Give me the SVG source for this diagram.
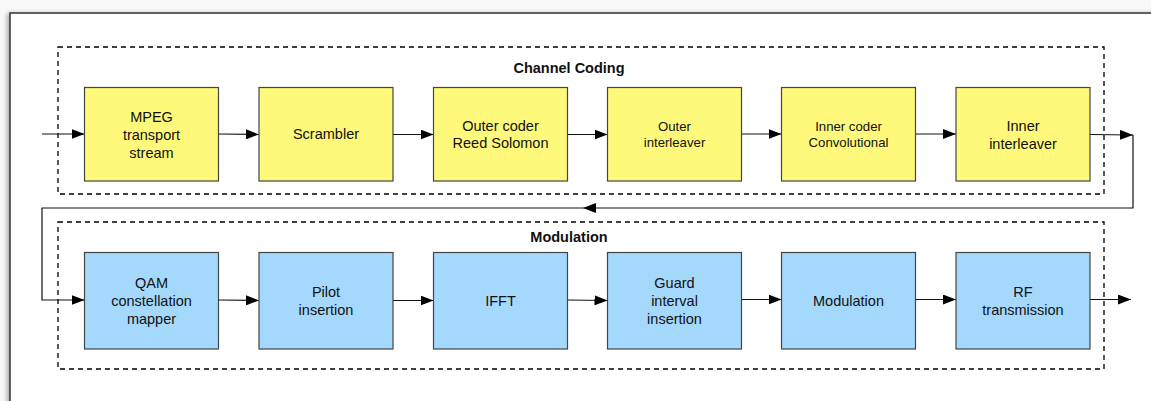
<svg xmlns="http://www.w3.org/2000/svg" width="1151" height="401" viewBox="0 0 1151 401">
  <defs>
    <marker id="arrow" viewBox="0 0 13 10" refX="13" refY="5" markerWidth="13" markerHeight="10" markerUnits="userSpaceOnUse" orient="auto">
      <path d="M0,0 L13,5 L0,10 Z" fill="#000"/>
    </marker>
    <filter id="shadow" x="-5%" y="-5%" width="110%" height="110%">
      <feGaussianBlur in="SourceAlpha" stdDeviation="2.5"/>
      <feOffset dx="-2" dy="1" result="b"/>
      <feComponentTransfer><feFuncA type="linear" slope="0.35"/></feComponentTransfer>
      <feMerge><feMergeNode/><feMergeNode in="SourceGraphic"/></feMerge>
    </filter>
  </defs>
  <style>
    .frame { fill: #fff; stroke: #333; stroke-width: 1.5; }
    .group { fill: none; stroke: #000; stroke-width: 1.3; stroke-dasharray: 5 4; }
    .coding { fill: #fef97a; stroke: #444; stroke-width: 1.2; }
    .mod { fill: #a5d8fd; stroke: #444; stroke-width: 1.2; }
    .title { font-family: "Liberation Sans", Arial, sans-serif; font-size: 14.5px; font-weight: bold; fill: #111; text-anchor: middle; }
    .lbl { font-family: "Liberation Sans", Arial, sans-serif; font-size: 14.5px; fill: #111; text-anchor: middle; }
    .sm { font-size: 13.2px; }
    .edge { fill: none; stroke: #111; stroke-width: 1.2; }
  </style>

  <rect width="1151" height="401" fill="#f9f9f9"/>
  <rect class="frame" x="10" y="13" width="1170" height="410" filter="url(#shadow)"/>

  <!-- group outlines -->
  <g id="channel-coding">
    <rect class="group" x="58" y="47" width="1046" height="147"/>
    <text class="title" x="569" y="73">Channel Coding</text>
  </g>
  <g id="modulation-group">
    <rect class="group" x="58" y="222" width="1046" height="147"/>
    <text class="title" x="569" y="242">Modulation</text>
  </g>

  <!-- connectors -->
  <g id="connectors">
    <line class="edge" x1="42" y1="134" x2="84.5" y2="134" marker-end="url(#arrow)"/>
    <line class="edge" x1="218.5" y1="134" x2="259" y2="134.5" marker-end="url(#arrow)"/>
    <line class="edge" x1="393" y1="134.5" x2="433.5" y2="134.5" marker-end="url(#arrow)"/>
    <line class="edge" x1="567.5" y1="134.5" x2="607.5" y2="134.5" marker-end="url(#arrow)"/>
    <line class="edge" x1="741.5" y1="134" x2="781.5" y2="134" marker-end="url(#arrow)"/>
    <line class="edge" x1="915.5" y1="134" x2="956" y2="134" marker-end="url(#arrow)"/>
    <line class="edge" x1="1090" y1="134.5" x2="1133" y2="135" marker-end="url(#arrow)"/>
    <path class="edge" d="M1133,135 L1133,208 L583,208" marker-end="url(#arrow)"/>
    <path class="edge" d="M583,208 L42,208 L42,300 L84.5,300" marker-end="url(#arrow)"/>
    <line class="edge" x1="218.5" y1="300" x2="259" y2="300.5" marker-end="url(#arrow)"/>
    <line class="edge" x1="393" y1="300.5" x2="433.5" y2="300.5" marker-end="url(#arrow)"/>
    <line class="edge" x1="567.5" y1="300" x2="607.5" y2="300.5" marker-end="url(#arrow)"/>
    <line class="edge" x1="741.5" y1="299.5" x2="781.5" y2="299.5" marker-end="url(#arrow)"/>
    <line class="edge" x1="915.5" y1="299.5" x2="956" y2="299.5" marker-end="url(#arrow)"/>
    <line class="edge" x1="1090" y1="299.5" x2="1131" y2="299.5" marker-end="url(#arrow)"/>
  </g>

  <!-- channel coding blocks -->
  <g id="mpeg">
    <rect class="coding" x="84.5" y="87.5" width="134" height="93.5"/>
    <text class="lbl" x="151.5" y="122">MPEG</text>
    <text class="lbl" x="151.5" y="140">transport</text>
    <text class="lbl" x="151.5" y="158">stream</text>
  </g>
  <g id="scrambler">
    <rect class="coding" x="259" y="87.5" width="134" height="93.5"/>
    <text class="lbl" x="326" y="139">Scrambler</text>
  </g>
  <g id="outer-coder">
    <rect class="coding" x="433.5" y="87.5" width="134" height="93.5"/>
    <text class="lbl" x="500.5" y="131">Outer coder</text>
    <text class="lbl" x="500.5" y="148">Reed Solomon</text>
  </g>
  <g id="outer-interleaver">
    <rect class="coding" x="607.5" y="87.5" width="134" height="93.5"/>
    <text class="lbl sm" x="674.5" y="131">Outer</text>
    <text class="lbl sm" x="674.5" y="147">interleaver</text>
  </g>
  <g id="inner-coder">
    <rect class="coding" x="781.5" y="87.5" width="134" height="93.5"/>
    <text class="lbl sm" x="848.5" y="131">Inner coder</text>
    <text class="lbl sm" x="848.5" y="147">Convolutional</text>
  </g>
  <g id="inner-interleaver">
    <rect class="coding" x="956" y="87.5" width="134" height="93.5"/>
    <text class="lbl" x="1023" y="131">Inner</text>
    <text class="lbl" x="1023" y="149">interleaver</text>
  </g>

  <!-- modulation blocks -->
  <g id="qam">
    <rect class="mod" x="84.5" y="252.5" width="134" height="96.5"/>
    <text class="lbl" x="151.5" y="288">QAM</text>
    <text class="lbl" x="151.5" y="306">constellation</text>
    <text class="lbl" x="151.5" y="324">mapper</text>
  </g>
  <g id="pilot">
    <rect class="mod" x="259" y="252.5" width="134" height="96.5"/>
    <text class="lbl" x="326" y="297">Pilot</text>
    <text class="lbl" x="326" y="315">insertion</text>
  </g>
  <g id="ifft">
    <rect class="mod" x="433.5" y="252.5" width="134" height="96.5"/>
    <text class="lbl" x="500.5" y="306">IFFT</text>
  </g>
  <g id="guard">
    <rect class="mod" x="607.5" y="252.5" width="134" height="96.5"/>
    <text class="lbl" x="674.5" y="288">Guard</text>
    <text class="lbl" x="674.5" y="306">interval</text>
    <text class="lbl" x="674.5" y="324">insertion</text>
  </g>
  <g id="modulation">
    <rect class="mod" x="781.5" y="252.5" width="134" height="96.5"/>
    <text class="lbl" x="848.5" y="306">Modulation</text>
  </g>
  <g id="rf">
    <rect class="mod" x="956" y="252.5" width="134" height="96.5"/>
    <text class="lbl" x="1023" y="297">RF</text>
    <text class="lbl" x="1023" y="315">transmission</text>
  </g>
</svg>
